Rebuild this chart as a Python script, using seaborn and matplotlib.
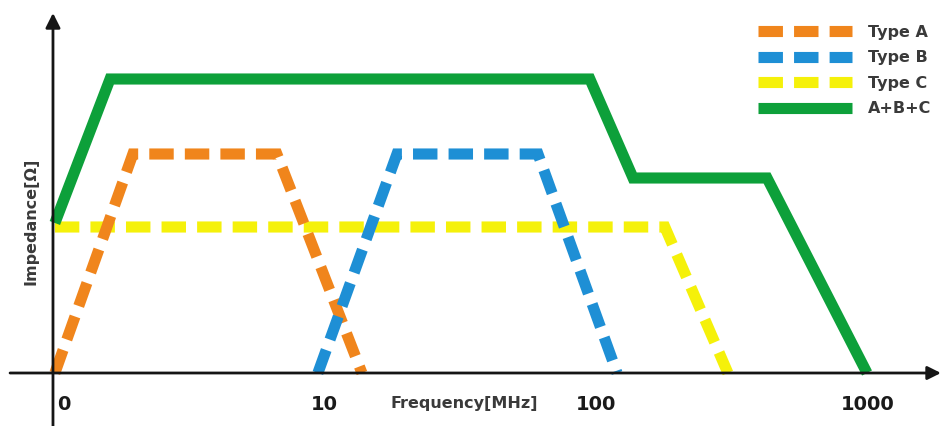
import matplotlib
matplotlib.use('Agg')
import matplotlib.pyplot as plt
import matplotlib.transforms as mtransforms
import seaborn as sns
import pandas as pd

# positions along x are in decades (0 -> "0", 1 -> "10", ...), y is impedance (arbitrary units)
type_a_x = [0.007, 0.294, 0.824, 1.137]
type_a_y = [0.0, 21.9, 21.9, 0.0]

type_b_x = [0.975, 1.266, 1.785, 2.076]
type_b_y = [0.0, 21.9, 21.9, 0.0]

type_c_x = [0.007, 2.252, 2.484]
type_c_y = [14.6, 14.6, 0.0]

total_x = [0.007, 0.21, 1.976, 2.135, 2.628, 2.996]
total_y = [15.0, 29.4, 29.4, 19.5, 19.5, 0.0]

tick_pos = [0, 1, 2, 3]
tick_labels = ['0', '10', '100', '1000']

sns.set_theme(style='white')
plt.rcParams['font.family'] = ['DejaVu Sans']

fig = plt.figure(figsize=(9.42, 4.26), dpi=100)
ax = fig.add_axes([0, 0, 1, 1])

x_min, x_max = -0.195, 3.272
y_min, y_max = -5.3, 37.3

lw = 8
dash = (0, (2.2, 1.0))
dash_kw = dict(linestyle=dash, dash_capstyle='butt', dash_joinstyle='miter')

sns.lineplot(x=type_c_x, y=type_c_y, ax=ax, color='#F5F10A', lw=lw,
             label='Type C', **dash_kw)
sns.lineplot(x=type_a_x, y=type_a_y, ax=ax, color='#F0851C', lw=lw,
             label='Type A', **dash_kw)
sns.lineplot(x=type_b_x, y=type_b_y, ax=ax, color='#1E8FD5', lw=lw,
             label='Type B', **dash_kw)
sns.lineplot(x=total_x, y=total_y, ax=ax, color='#0DA03A', lw=lw,
             label='A+B+C', solid_capstyle='butt', solid_joinstyle='miter')

ax.set_xlim(x_min, x_max)
ax.set_ylim(y_min, y_max)

for s in ax.spines.values():
    s.set_visible(False)
ax.spines['bottom'].set_position(('data', 0))
ax.spines['left'].set_position(('data', 0))

# axis lines with arrows
ax.annotate('', xy=(3.268, 0), xytext=(-0.158, 0),
            arrowprops=dict(arrowstyle='-|>', mutation_scale=20, color='#151515',
                            lw=2, shrinkA=0, shrinkB=0))
ax.annotate('', xy=(0, 36.0), xytext=(0, y_min),
            arrowprops=dict(arrowstyle='-|>', mutation_scale=22, color='#151515',
                            lw=2, shrinkA=0, shrinkB=0))

ax.set_xticks(tick_pos)
ax.set_xticklabels(tick_labels, fontsize=14, fontweight='bold', color='#1a1a1a')
ax.tick_params(axis='x', length=0, pad=16, bottom=True)
ax.set_yticks([])
lbl0 = ax.get_xticklabels()[0]
lbl0.set_ha('left')
lbl0.set_transform(lbl0.get_transform() + mtransforms.ScaledTranslation(4 / 100, 0, fig.dpi_scale_trans))

ax.set_xlabel('Frequency[MHz]', fontsize=11.5, fontweight='bold', color='#3a3a3a')
ax.xaxis.set_label_coords(464 / 942, 1 - 396 / 426)
ax.set_ylabel('Impedance[Ω]', fontsize=11.5, fontweight='bold', color='#3a3a3a')
ax.yaxis.set_label_coords(38 / 942, 1 - 221 / 426)

handles, labels = ax.get_legend_handles_labels()
order = ['Type A', 'Type B', 'Type C', 'A+B+C']
hmap = dict(zip(labels, handles))
leg = ax.legend([hmap[k] for k in order], order, loc='upper left',
                bbox_to_anchor=(758 / 942, 1 - 25 / 426), frameon=False,
                fontsize=11.5, handlelength=5.9, handletextpad=1.0,
                labelspacing=0.65, borderpad=0, borderaxespad=0)
for t in leg.get_texts():
    t.set_fontweight('bold')
    t.set_color('#3a3a3a')

fig.savefig('out.png', dpi=100)
